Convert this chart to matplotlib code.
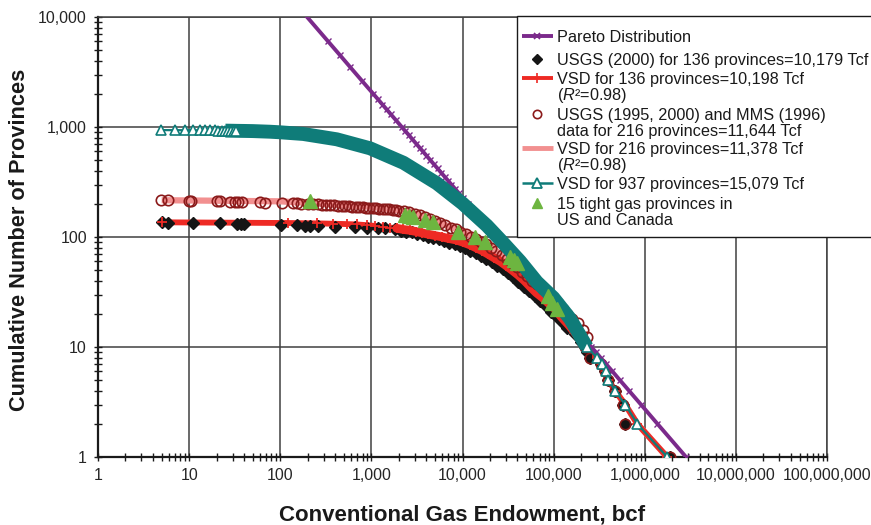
import matplotlib
matplotlib.use('Agg')
import matplotlib.pyplot as plt
from matplotlib.lines import Line2D
from matplotlib.patches import Rectangle
from matplotlib.ticker import LogLocator, FuncFormatter, NullFormatter
import numpy as np

plt.rcParams['font.family'] = ['Liberation Sans', 'DejaVu Sans']
plt.rcParams['mathtext.fontset'] = 'custom'
plt.rcParams['mathtext.rm'] = 'Liberation Sans'
plt.rcParams['mathtext.it'] = 'Liberation Sans:italic'
plt.rcParams['mathtext.bf'] = 'Liberation Sans:bold'

# ---------------- data ----------------
pareto_size = [163, 335, 452, 586, 798, 1050, 1172, 1324, 1466, 1641, 1866, 2158, 2350, 2560,
               2795, 3126, 3378, 3673, 4018, 4436, 4839, 5324, 5826, 6430, 6950, 7551, 8267,
               9120, 10190, 11510, 12480, 13650, 15000, 16680, 17990, 19590, 21440, 23660,
               25780, 28060, 30640, 34280, 37040, 40270, 44070, 48640, 53050, 58340, 64700,
               70470, 77410, 82760, 92470, 100000, 114300, 126200, 150000, 183000, 215000,
               259000, 290000, 327000, 376000, 442000, 533000, 673000, 908000, 1380000, 2840000]
pareto_count = [12000, 6000, 4500, 3500, 2600, 2000, 1800, 1600, 1450, 1300, 1150, 1000, 920,
                850, 780, 700, 650, 600, 550, 500, 460, 420, 385, 350, 325, 300, 275,
                250, 225, 200, 185, 170, 155, 140, 130, 120, 110, 100,
                92, 85, 78, 70, 65, 60, 55, 50, 46, 42, 38,
                35, 32, 30, 27, 25, 22, 20, 17, 14, 12,
                10, 9, 8, 7, 6, 5, 4, 3, 2, 1]

usgs136_size = [5, 5.9, 10.9, 21.8, 33.8, 36.8, 40, 102, 151, 188, 211, 262, 400, 660, 887,
                1195, 1415, 1826, 2100, 2400, 2800, 3200, 3700, 4200, 4800, 5500, 6300, 7200,
                8200, 9400, 10700, 12200, 14000, 16000, 18300, 21000, 24000, 27500, 31500,
                36000, 41000, 47000, 54000, 62000, 71000, 81000, 93000, 107000, 123000,
                140000, 170000, 200000, 220000, 235000, 250000, 330000, 370000, 400000,
                470000, 580000, 610000, 1900000]
usgs136_count = [136, 135, 134, 133, 132, 131, 130, 129, 128, 127, 126, 125, 124, 123, 122,
                 121, 120, 119, 113, 112, 110, 107, 104, 101, 98, 95, 92, 89,
                 86, 83, 79, 75, 71, 67, 63, 59, 55, 51, 47,
                 43, 39, 35, 32, 29, 26, 24, 21, 19, 17,
                 15, 13, 11, 10, 9, 8, 7, 6, 5,
                 4, 3, 2, 1]

vsd136_size = [5, 123, 251, 380, 535, 700, 900, 1100, 1350, 1600, 1900, 2250, 2650, 3100,
               3600, 4200, 5000, 6000, 7000, 8500, 10000, 12000, 14000, 16500, 19000, 22000,
               26000, 30000, 35000, 41000, 48000, 56000, 65000, 76000, 88000, 100000, 120000,
               150000, 200000, 231000, 270000, 300000, 338000, 377000, 400000, 473000,
               610000, 830000, 1760000]
vsd136_count = [136, 134, 133, 132, 131, 130, 128, 126, 124, 122, 120, 117, 115, 112,
                109, 106, 103, 100, 97, 94, 90, 85, 80, 75, 70, 65,
                60, 55, 50, 45, 40, 35, 31, 28, 25, 23, 19,
                15.5, 11.5, 10, 9, 8, 7, 6, 5, 4,
                3, 2, 1]

usgs216_size = [4.93, 5.9, 10, 10.6, 20.1, 21.8, 28.1, 31.6, 34.1, 38.5, 60, 67.6, 104, 139,
                152, 171, 200, 230, 260, 290, 320, 350, 390, 430, 480, 520, 570, 620, 680,
                740, 800, 870, 950, 1030, 1120, 1220, 1330, 1450, 1580, 1720, 1870, 2000,
                2300, 2600, 3000, 3400, 3900, 4400, 5000, 5700, 6500, 7400, 8400, 9500,
                10800, 12300, 14000, 16000, 18200, 20700, 23600, 26900, 30600, 34800, 39600,
                45100, 51300, 58400, 66500, 75700, 86100, 98000, 111000, 126000, 140000,
                160000, 186000, 210000, 230000, 220000, 250000, 330000, 370000, 400000,
                470000, 580000, 610000, 1900000]
usgs216_count = [216, 215, 214, 213, 212, 211, 210, 209, 208, 207, 206, 205, 204, 203,
                 202, 201, 200, 199, 198, 197, 196, 195, 194, 193, 192, 191, 190, 189, 188,
                 187, 186, 185, 184, 183, 182, 181, 180, 179, 178, 177, 176, 174,
                 171, 168, 163, 158, 152, 146, 140, 134, 128, 122, 117, 112,
                 106, 101, 96, 91, 86, 80, 74, 68, 63, 58, 53,
                 48, 44, 40, 37, 34, 31, 28, 25, 22, 20,
                 18, 16.5, 14.3, 12.3, 10, 8, 7, 6, 5,
                 4, 3, 2, 1]

vsd216_size = [5, 100, 300, 1000, 2660, 5220, 10000, 18500, 28100, 42900, 65400, 99500,
               152000, 231000, 300000, 400000, 473000, 610000, 830000, 1760000]
vsd216_count = [216, 211, 200, 188, 170, 138, 112, 88, 66, 50, 38, 29,
                19, 10, 8, 5, 4, 3, 2, 1]

vsd937_size = [4.9, 7, 9, 11, 13, 15, 17, 19, 21, 23, 25, 27, 29, 31, 33, 40, 50, 77, 100,
               179, 417, 968, 2250, 5220, 10000, 18500, 28100, 42900, 65400, 99500, 152000,
               231000, 300000, 338000, 377000, 400000, 473000, 610000, 830000, 1760000]
vsd937_count = [937, 936, 935, 934, 933, 932, 931, 930, 929, 928, 927, 926, 925, 924, 923,
                921, 918, 906, 895, 864, 773, 640, 473, 308, 202, 127, 88, 60, 39, 28, 18,
                10, 8, 7, 6, 5, 4, 3, 2, 1]

tight_size = [212, 2340, 2600, 2890, 3880, 4790, 9020, 13750, 17700, 33300, 36500, 39400,
              87700, 96000, 108000]
tight_count = [214, 158, 155, 151, 143, 138, 112, 101, 91, 66, 62, 58, 29, 25, 22]

labels = [
    "Pareto Distribution",
    "USGS (2000) for 136 provinces=10,179 Tcf",
    "VSD for 136 provinces=10,198 Tcf\n($\\mathit{R}$\u00b2=0.98)",
    "USGS (1995, 2000) and MMS (1996)\ndata for 216 provinces=11,644 Tcf",
    "VSD for 216 provinces=11,378 Tcf\n($\\mathit{R}$\u00b2=0.98)",
    "VSD for 937 provinces=15,079 Tcf",
    "15 tight gas provinces in\nUS and Canada",
]
x_label = "Conventional Gas Endowment, bcf"
y_label = "Cumulative Number of Provinces"
title_text = "USGS (2000) (1996) Sizes Compared"

# ---------------- styling ----------------
purple = '#7B2A8B'
red = '#EE2A24'
pink = '#F29090'
darkred = '#8B1A1A'
teal = '#0F7C79'
green = '#6DB540'
black = '#151515'

W, H = 871, 525
fig = plt.figure(figsize=(W / 100, H / 100), dpi=100)
ax = fig.add_axes([98 / W, 68 / H, 729 / W, 440 / H])
ax.set_xscale('log')
ax.set_yscale('log')
ax.set_xlim(1, 1e8)
ax.set_ylim(1, 1e4)

# series
ax.plot(vsd216_size, vsd216_count, color=pink, lw=4.5, zorder=2, solid_capstyle='butt')
ax.plot(vsd136_size, vsd136_count, color=red, lw=4.2, zorder=3, solid_capstyle='butt')
ax.plot(usgs136_size, usgs136_count, ls='none', marker='D', color=black, ms=6, zorder=4)
dense = slice(10, 40)
ax.plot(vsd136_size[dense], vsd136_count[dense], color=red, lw=6.3, zorder=4.2,
        solid_capstyle='round')
ax.plot(vsd136_size, vsd136_count, ls='none', color=red, marker='+', ms=7.5, mew=1.3,
        zorder=4.5)
ax.plot(usgs216_size, usgs216_count, ls='none', marker='o', mfc='none', mec=darkred,
        ms=7.5, mew=1.2, zorder=5)
ax.plot(pareto_size, pareto_count, color=purple, lw=2.8, marker='x', ms=5, mew=1.0, zorder=6)
band = slice(10, 32)
ax.plot(vsd937_size[band], vsd937_count[band], color=teal, lw=10, zorder=6.5,
        solid_capstyle='butt')
ax.plot(vsd937_size, vsd937_count, color=teal, lw=1.6, zorder=6.6)
left_pts = slice(0, 15)
tail_pts = slice(31, None)
for part in (left_pts, tail_pts):
    ax.plot(vsd937_size[part], vsd937_count[part], ls='none', marker='^', mfc='white',
            mec=teal, ms=7, mew=1.2, zorder=7)
ax.plot(tight_size, tight_count, ls='none', marker='^', color=green, ms=10, zorder=8)

# axes look
ax.grid(True, which='major', color='#404040', lw=1.1)
ax.set_axisbelow(True)
for s in ['left', 'bottom']:
    ax.spines[s].set_color('#1a1a1a')
    ax.spines[s].set_linewidth(1.6)
for s in ['top', 'right']:
    ax.spines[s].set_color('#404040')
    ax.spines[s].set_linewidth(1.1)

fmt = FuncFormatter(lambda v, p: f"{int(round(v)):,}")
for axis in (ax.xaxis, ax.yaxis):
    axis.set_major_locator(LogLocator(base=10, numticks=20))
    axis.set_minor_locator(LogLocator(base=10, subs=np.arange(2, 10), numticks=20))
    axis.set_major_formatter(fmt)
    axis.set_minor_formatter(NullFormatter())
ax.tick_params(which='both', direction='inout', length=6, width=1.0, color='#1a1a1a',
               labelsize=11.5, labelcolor='#262626', top=False, right=False)
ax.tick_params(axis='x', which='major', pad=5)
ax.tick_params(axis='y', which='major', pad=5)

fig.text(20 / W, 1 - 240 / H, y_label, rotation=90, ha='center', va='center',
         fontsize=15.7, fontweight='bold', color='#1a1a1a')
fig.text(462 / W, 1 - 515 / H, x_label, ha='center', va='center',
         fontsize=16, fontweight='bold', color='#1a1a1a')
fig.text(253 / W, 1 + 3.5 / H, title_text, ha='left', va='baseline',
         fontsize=14, fontweight='bold', color='#1a1a1a')

# ---------------- legend (drawn in figure pixels; frame runs past the right edge) ----------------
fig.add_artist(Rectangle((516.7 / W, 1 - 237 / H), 400 / W, 221 / H,
                         transform=fig.transFigure, facecolor='white',
                         edgecolor='#1a1a1a', lw=1.0, zorder=4))

handle_styles = [
    dict(line=dict(color=purple, lw=2.8), mark=dict(marker='x', color=purple, ms=5, mew=1.2)),
    dict(line=None, mark=dict(marker='D', color=black, ms=5)),
    dict(line=dict(color=red, lw=2.8), mark=dict(marker='+', color=red, ms=7, mew=1.2)),
    dict(line=None, mark=dict(marker='o', mfc='none', mec=darkred, ms=6, mew=1.2)),
    dict(line=dict(color=pink, lw=3.5), mark=None),
    dict(line=dict(color=teal, lw=1.8),
         mark=dict(marker='^', mfc='white', mec=teal, ms=6.5, mew=1.3)),
    dict(line=None, mark=dict(marker='^', color=green, ms=7)),
]
entry_top_y = [36, 59.3, 78.3, 114.3, 148.3, 183.3, 203.3]
line_step = 15.8
hx0, hx1, tx = 521.7, 552.7, 556.7


def fx(px):
    return px / W


def fy(py):
    return 1 - py / H


for lab, st, yc in zip(labels, handle_styles, entry_top_y):
    if st['line'] is not None:
        fig.add_artist(Line2D([fx(hx0), fx(hx1)], [fy(yc), fy(yc)],
                              transform=fig.transFigure, zorder=5,
                              solid_capstyle='butt', **st['line']))
    if st['mark'] is not None:
        fig.add_artist(Line2D([fx((hx0 + hx1) / 2)], [fy(yc)], ls='none',
                              transform=fig.transFigure, zorder=5.5, **st['mark']))
    for k, line in enumerate(lab.split('\n')):
        fig.text(fx(tx), fy(yc + k * line_step + 5.8), line, ha='left', va='baseline',
                 fontsize=11.7, color='#1a1a1a', zorder=6)

fig.savefig('out.png', dpi=100, facecolor='white')
